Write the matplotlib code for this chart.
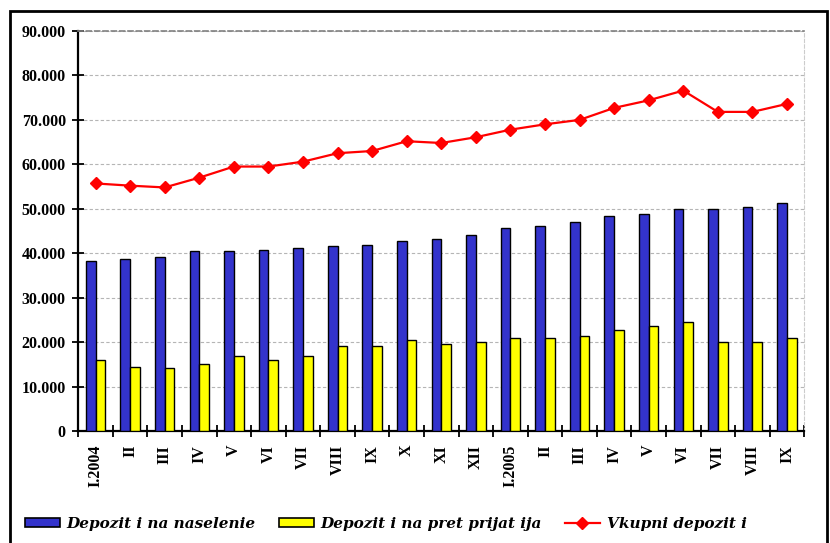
import numpy as np
import matplotlib
matplotlib.use("Agg")
import matplotlib.pyplot as plt
from matplotlib.patches import Rectangle, Patch
from matplotlib.lines import Line2D
from matplotlib.ticker import FuncFormatter

months = ["I.2004", "II", "III", "IV", "V", "VI", "VII", "VIII", "IX", "X", "XI", "XII",
          "I.2005", "II", "III", "IV", "V", "VI", "VII", "VIII", "IX"]

naselenie = [38.3, 38.7, 39.1, 40.4, 40.4, 40.8, 41.2, 41.7, 41.8, 42.8, 43.3, 44.2,
             45.6, 46.2, 47.1, 48.4, 48.9, 49.9, 49.9, 50.4, 51.2]
pretprijatija = [15.9, 14.5, 14.1, 15.0, 16.8, 15.9, 16.8, 19.1, 19.1, 20.5, 19.5, 20.0,
                 20.9, 20.9, 21.4, 22.7, 23.6, 24.5, 20.0, 20.0, 20.9]
vkupni = [55.7, 55.2, 54.8, 57.0, 59.5, 59.5, 60.6, 62.5, 63.0, 65.2, 64.8, 66.1,
          67.8, 69.0, 70.0, 72.7, 74.4, 76.6, 71.8, 71.8, 73.6]

naselenie = np.array(naselenie) * 1000
pretprijatija = np.array(pretprijatija) * 1000
vkupni = np.array(vkupni) * 1000

BLUE = "#3333CC"
YELLOW = "#FFFF00"
RED = "#FF0000"
SERIF = "Liberation Serif"

fig = plt.figure(figsize=(8.3, 5.43), dpi=100)
ax = fig.add_axes([0.0943, 0.2063, 0.8747, 0.7366])

x = np.arange(len(months))
w = 0.28
ax.bar(x - w / 2, naselenie, w, color=BLUE, edgecolor="black", linewidth=1.0, zorder=3)
ax.bar(x + w / 2, pretprijatija, w, color=YELLOW, edgecolor="black", linewidth=1.0, zorder=3)
ax.plot(x, vkupni, color=RED, linewidth=1.6, marker="D", markersize=6.5, zorder=4)

ax.set_xlim(-0.5, len(months) - 0.5)
ax.set_ylim(0, 90000)

# y axis
ax.set_yticks(np.arange(0, 90001, 10000))
ax.yaxis.set_major_formatter(FuncFormatter(lambda v, p: f"{v:,.0f}".replace(",", ".")))
ax.tick_params(axis="y", direction="inout", length=8, width=1.3, pad=5)
for lab in ax.get_yticklabels():
    lab.set_fontfamily(SERIF)
    lab.set_fontweight("bold")
    lab.set_fontsize(11.5)

# x axis: ticks on boundaries, labels on centres
ax.set_xticks(np.arange(-0.5, len(months), 1.0))
ax.set_xticklabels([])
ax.set_xticks(x, minor=True)
ax.set_xticklabels(months, minor=True, rotation=90, fontfamily=SERIF,
                   fontweight="bold", fontsize=11.5, va="top")
ax.tick_params(axis="x", which="major", direction="inout", length=8, width=1.3)
ax.tick_params(axis="x", which="minor", length=0, pad=10)

ax.grid(axis="y", color="#b5b5b5", linestyle=(0, (3, 2)), linewidth=0.8, zorder=0)

ax.spines["left"].set_linewidth(1.6)
ax.spines["bottom"].set_linewidth(1.6)
ax.spines["top"].set_color("#808080")
ax.spines["top"].set_linestyle((0, (3, 2)))
ax.spines["top"].set_linewidth(1.2)
ax.spines["right"].set_color("#cccccc")
ax.spines["right"].set_linestyle((0, (3, 2)))
ax.spines["right"].set_linewidth(0.8)

# outer frame
fig.patches.append(Rectangle((10 / 830, -0.05), 817 / 830, 1 - 11 / 543 + 0.05,
                             transform=fig.transFigure, fill=False,
                             edgecolor="black", linewidth=2))

handles = [
    Patch(facecolor=BLUE, edgecolor="black", linewidth=1.2),
    Patch(facecolor=YELLOW, edgecolor="black", linewidth=1.2),
    Line2D([], [], color=RED, linewidth=1.6, marker="D", markersize=6.5),
]
labels = ["Depozit i na naselenie", "Depozit i na pret prijat ija", "Vkupni depozit i"]
fig.legend(handles, labels, loc="center left", bbox_to_anchor=(0.013, 0.035), ncol=3,
           frameon=False, handlelength=2.3, handleheight=0.55, columnspacing=1.5,
           handletextpad=0.45,
           prop={"family": "DejaVu Serif", "weight": "bold", "style": "italic", "size": 11})

fig.savefig("out.png", dpi=100)
